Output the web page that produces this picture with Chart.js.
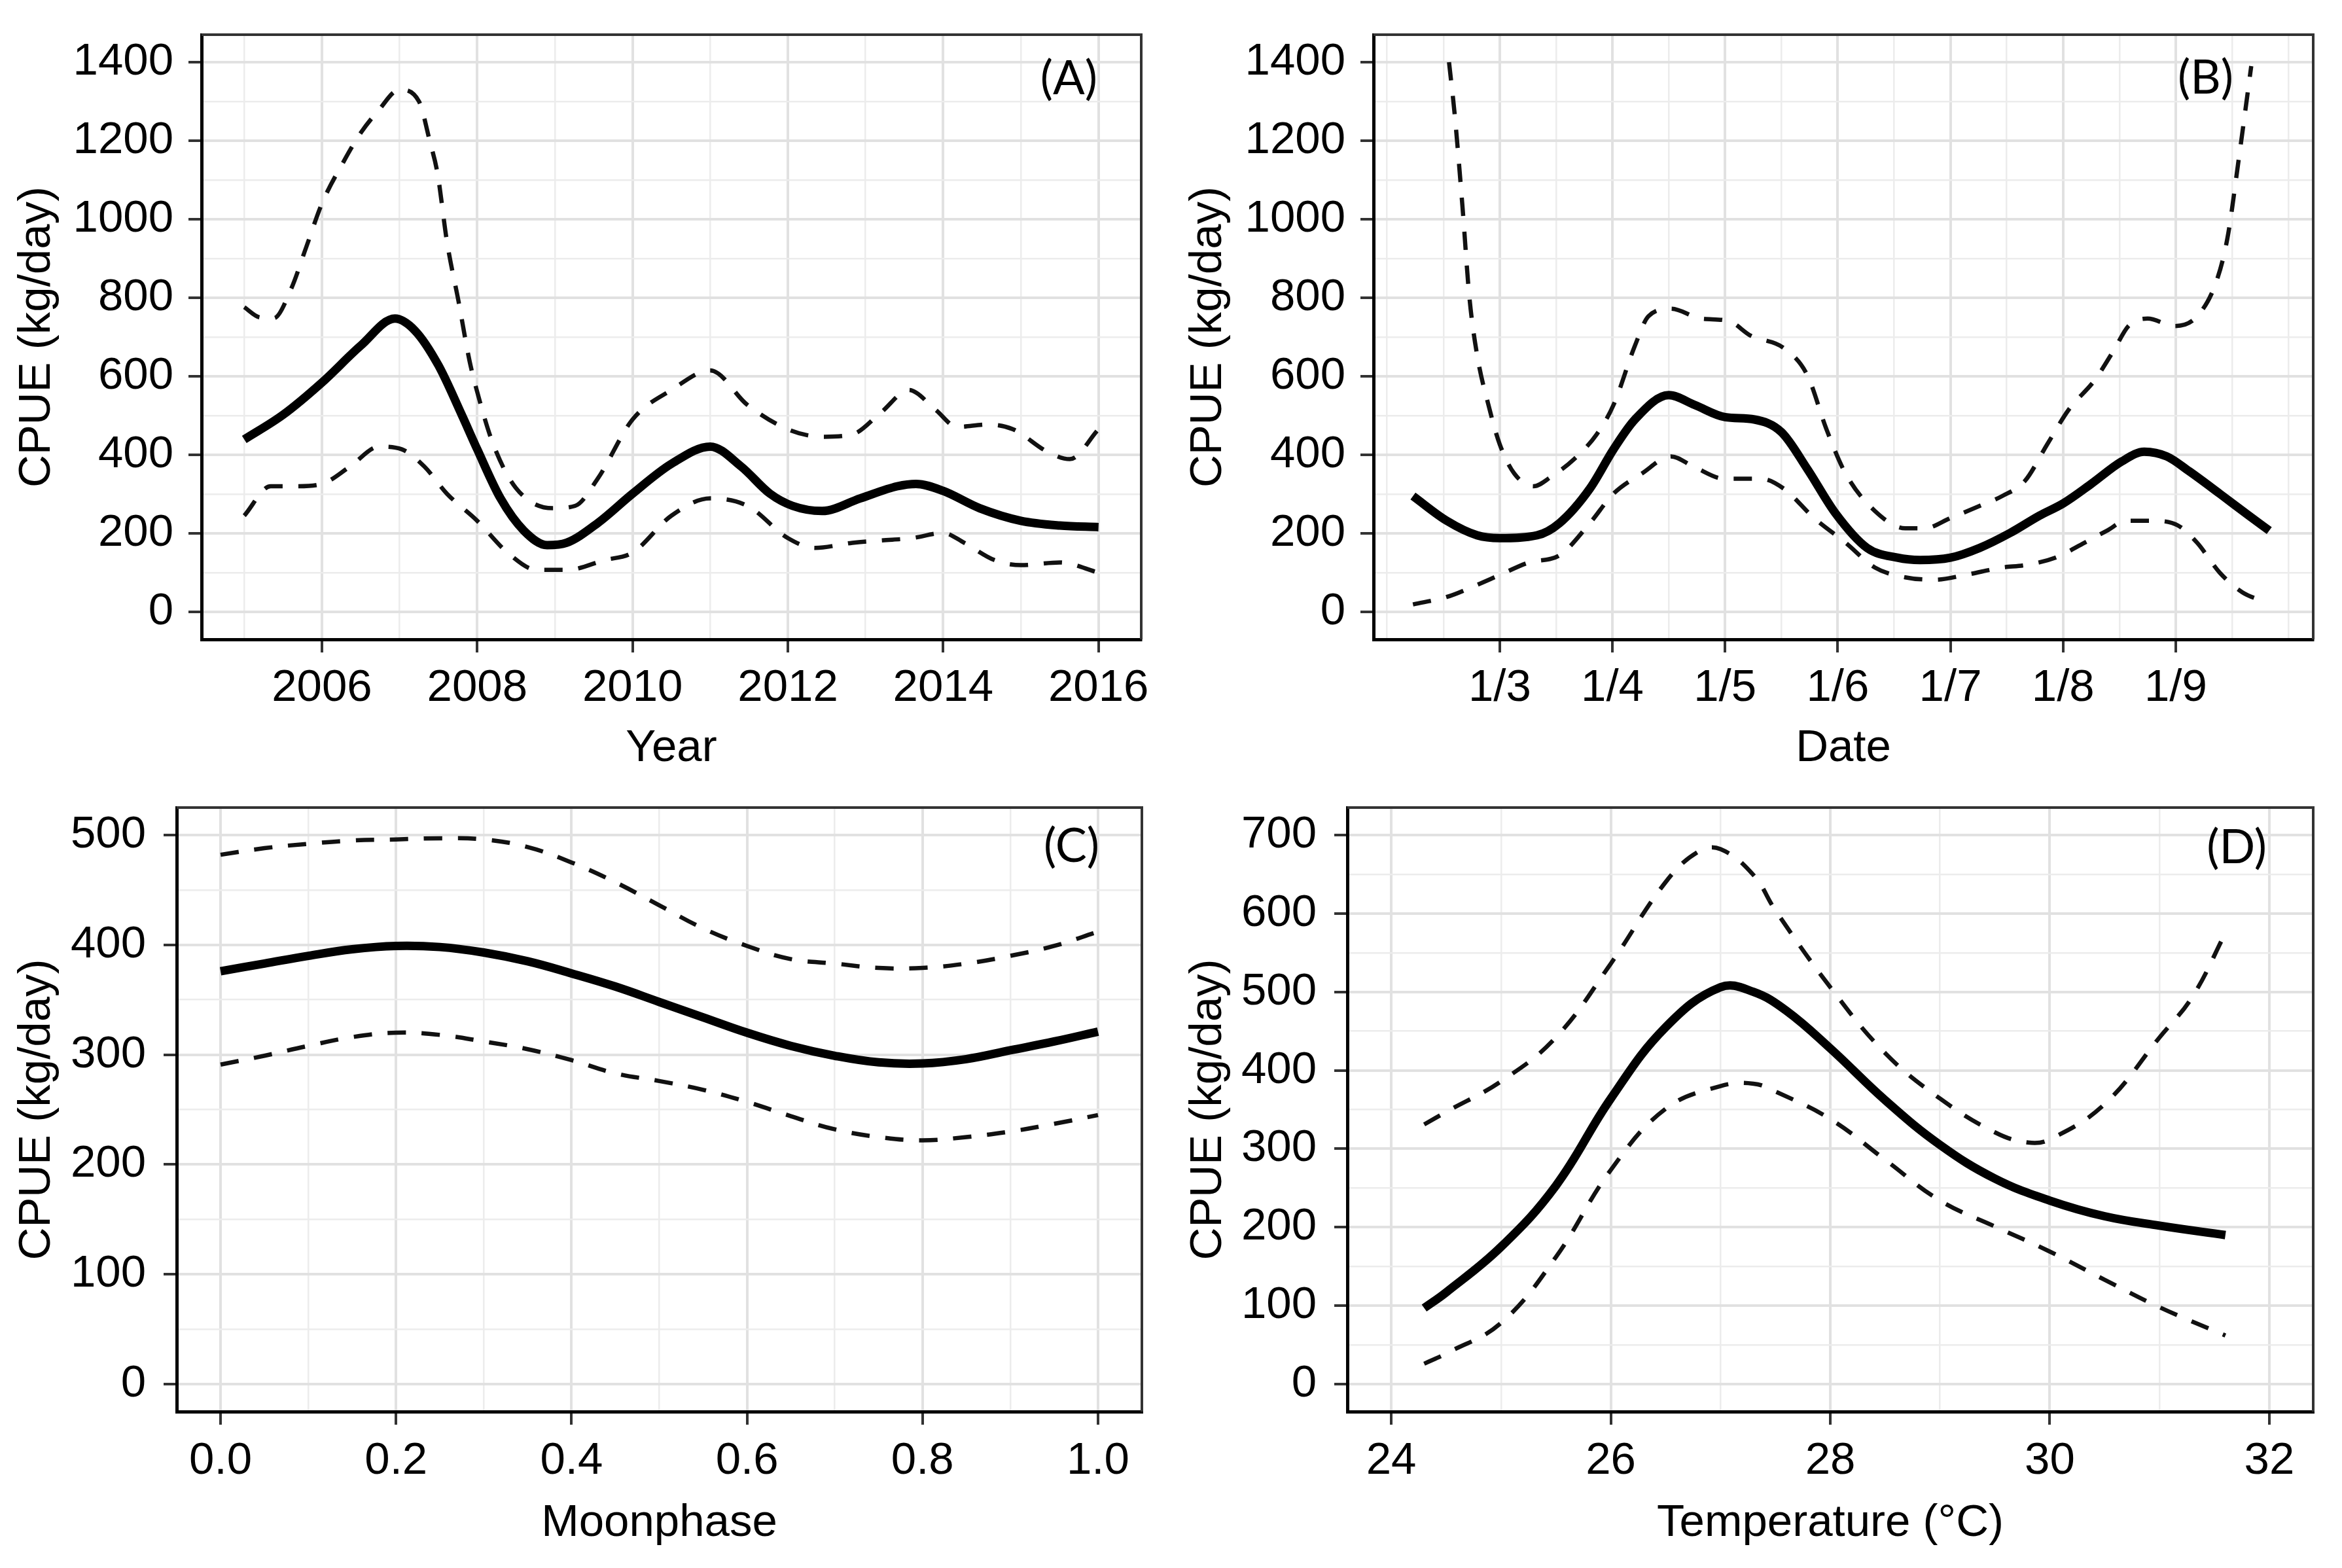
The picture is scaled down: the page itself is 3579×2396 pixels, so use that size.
<!DOCTYPE html>
<html><head><meta charset="utf-8">
<script src="https://cdn.jsdelivr.net/npm/chart.js@4.4.0/dist/chart.umd.min.js"></script>
<style>
html,body{margin:0;padding:0;background:#fff;}
body{width:3579px;height:2396px;position:relative;overflow:hidden;}
canvas{position:absolute;}
</style></head><body>
<canvas id="cA" style="left:0px;top:0px;width:1790px;height:1190px"></canvas>
<canvas id="cB" style="left:1790px;top:0px;width:1789px;height:1190px"></canvas>
<canvas id="cC" style="left:0px;top:1190px;width:1790px;height:1206px"></canvas>
<canvas id="cD" style="left:1790px;top:1190px;width:1789px;height:1206px"></canvas>
<script>
// ---------- Panel A : Year ----------
const A_fit_x = [2005, 2005.5, 2006, 2006.5, 2006.94, 2007.2, 2007.5, 2007.8, 2008, 2008.3, 2008.6, 2008.9, 2009.15, 2009.55, 2010, 2010.5, 2011, 2011.4, 2011.77, 2012.06, 2012.44, 2012.93, 2013.41, 2013.65, 2014, 2014.47, 2015, 2015.5, 2016];
const A_fit_y = [439, 502, 584, 678, 747, 716, 628, 502, 414, 289, 207, 170, 176, 226, 301, 377, 421, 370, 301, 270, 257, 289, 320, 326, 308, 264, 232, 220, 216];
const A_up_x = [2005, 2005.2, 2005.38, 2005.6, 2005.8, 2006, 2006.28, 2006.5, 2006.72, 2007, 2007.25, 2007.39, 2007.49, 2007.61, 2007.76, 2007.9, 2008, 2008.2, 2008.5, 2008.97, 2009.26, 2009.55, 2010, 2010.5, 2011, 2011.48, 2012, 2012.44, 2012.83, 2013.2, 2013.56, 2013.9, 2014.18, 2014.57, 2014.9, 2015.34, 2015.63, 2016];
const A_up_y = [776, 750, 748, 821, 930, 1040, 1147, 1220, 1275, 1330, 1300, 1198, 1115, 943, 790, 640, 560, 430, 315, 264, 270, 339, 490, 565, 615, 527, 465, 446, 452, 508, 565, 515, 471, 477, 465, 408, 389, 465];
const A_lo_x = [2005, 2005.34, 2005.68, 2006, 2006.36, 2006.74, 2007.03, 2007.32, 2007.61, 2008, 2008.39, 2008.77, 2009.16, 2009.64, 2010, 2010.5, 2011, 2011.48, 2012, 2012.35, 2012.83, 2013.2, 2013.6, 2014, 2014.27, 2014.66, 2015, 2015.5, 2016];
const A_lo_y = [245, 320, 320, 326, 370, 421, 414, 370, 301, 232, 151, 107, 107, 132, 151, 245, 289, 270, 188, 163, 176, 182, 188, 201, 176, 132, 119, 126, 100];
const A_xmajor = [2006, 2008, 2010, 2012, 2014, 2016];
const A_xlabels = ['2006', '2008', '2010', '2012', '2014', '2016'];
const A_xminor = [2005, 2007, 2009, 2011, 2013, 2015];

// ---------- Panel B : Date (month) ----------
const B_fit_x = [2.23, 2.53, 2.8, 3.0, 3.33, 3.53, 3.8, 4.01, 4.2, 4.5, 4.73, 5.0, 5.26, 5.5, 5.73, 5.98, 6.26, 6.53, 6.73, 7.0, 7.26, 7.53, 7.79, 8.0, 8.25, 8.52, 8.72, 8.92, 9.12, 9.39, 9.65, 9.83];
const B_fit_y = [295, 232, 195, 188, 195, 226, 314, 414, 490, 552, 527, 496, 490, 458, 364, 251, 163, 138, 132, 138, 163, 201, 245, 276, 326, 383, 408, 396, 358, 301, 245, 207];
const B_up_x = [2.55, 2.6, 2.67, 2.73, 2.8, 2.9, 3.0, 3.13, 3.3, 3.46, 3.66, 3.86, 4.01, 4.2, 4.32, 4.52, 4.79, 5.03, 5.23, 5.52, 5.73, 5.9, 6.07, 6.33, 6.6, 6.77, 7.0, 7.26, 7.46, 7.66, 7.86, 8.05, 8.28, 8.45, 8.58, 8.75, 8.99, 9.19, 9.36, 9.46, 9.56, 9.67];
const B_up_y = [1400, 1268, 1030, 804, 653, 527, 427, 352, 320, 345, 389, 452, 527, 678, 753, 772, 747, 741, 703, 672, 603, 465, 352, 257, 213, 213, 239, 270, 295, 333, 427, 515, 590, 666, 728, 747, 728, 753, 841, 954, 1155, 1390];
const B_lo_x = [2.23, 2.53, 2.8, 3.0, 3.26, 3.53, 3.8, 4.01, 4.26, 4.52, 4.72, 5.0, 5.32, 5.52, 5.79, 6.07, 6.33, 6.6, 6.86, 7.13, 7.46, 7.66, 7.93, 8.19, 8.39, 8.56, 8.79, 9.02, 9.19, 9.39, 9.59, 9.8];
const B_lo_y = [19, 38, 69, 94, 126, 144, 226, 301, 352, 396, 370, 339, 339, 314, 239, 176, 113, 88, 82, 94, 113, 119, 138, 176, 207, 232, 232, 220, 176, 100, 50, 25];
const B_xmajor = [3, 4, 5, 6, 7, 8, 9];
const B_xlabels = ['1/3', '1/4', '1/5', '1/6', '1/7', '1/8', '1/9'];
const B_xminor = [2, 2.5, 3.5, 4.5, 5.5, 6.5, 7.5, 8.5, 9.5, 10];

const AB_ymajor = [0, 200, 400, 600, 800, 1000, 1200, 1400];
const AB_ylabels = ['0', '200', '400', '600', '800', '1000', '1200', '1400'];
const AB_yminor = [100, 300, 500, 700, 900, 1100, 1300];

// ---------- Panel C : Moonphase ----------
const C_x = [0, 0.05, 0.1, 0.15, 0.2, 0.25, 0.3, 0.35, 0.4, 0.45, 0.5, 0.55, 0.6, 0.65, 0.7, 0.75, 0.8, 0.85, 0.9, 0.95, 1.0];
const C_fit_y = [376, 383, 390, 396, 399, 398, 393, 385, 374, 362, 348, 334, 320, 308, 299, 293, 292, 296, 304, 312, 321];
const C_up_y = [482, 488, 492, 495, 496, 497, 496, 489, 475, 457, 436, 415, 399, 387, 383, 379, 379, 383, 390, 399, 412];
const C_lo_y = [291, 299, 308, 316, 320, 318, 312, 305, 295, 283, 276, 268, 257, 244, 232, 225, 222, 225, 230, 237, 245];
const C_xmajor = [0, 0.2, 0.4, 0.6, 0.8, 1.0];
const C_xlabels = ['0.0', '0.2', '0.4', '0.6', '0.8', '1.0'];
const C_xminor = [0.1, 0.3, 0.5, 0.7, 0.9];
const C_ymajor = [0, 100, 200, 300, 400, 500];
const C_ylabels = ['0', '100', '200', '300', '400', '500'];
const C_yminor = [50, 150, 250, 350, 450];

// ---------- Panel D : Temperature ----------
const D_fit_x = [24.3, 24.5, 25, 25.5, 26, 26.5, 27, 27.3, 27.6, 28, 28.5, 29, 29.5, 30, 30.5, 31, 31.6];
const D_fit_y = [97, 117, 175, 253, 364, 455, 506, 500, 476, 428, 362, 305, 262, 234, 214, 202, 190];
const D_up_x = [24.3, 24.5, 25, 25.5, 26, 26.5, 26.8, 27, 27.3, 27.5, 28, 28.5, 29, 29.5, 29.8, 30, 30.5, 31, 31.3, 31.6];
const D_up_y = [331, 347, 386, 442, 536, 640, 679, 682, 649, 604, 506, 422, 364, 321, 308, 312, 357, 442, 494, 575];
const D_lo_x = [24.3, 24.5, 25, 25.5, 26, 26.5, 27, 27.3, 27.5, 28, 28.5, 29, 29.5, 30, 30.5, 31, 31.6];
const D_lo_y = [26, 39, 78, 162, 273, 351, 380, 383, 373, 338, 286, 234, 201, 169, 133, 98, 62];
const D_xmajor = [24, 26, 28, 30, 32];
const D_xlabels = ['24', '26', '28', '30', '32'];
const D_xminor = [25, 27, 29, 31];
const D_ymajor = [0, 100, 200, 300, 400, 500, 600, 700];
const D_ylabels = ['0', '100', '200', '300', '400', '500', '600', '700'];
const D_yminor = [50, 150, 250, 350, 450, 550, 650];

// ---------- rendering ----------
const FONT = '"Liberation Sans", Arial, sans-serif';
const FS = 69;

function pts(xs, ys) { return xs.map((x, i) => ({ x: x, y: ys[i] })); }

const frame = {
  id: 'frame',
  beforeDatasetsDraw(chart) {
    const { ctx, chartArea: a } = chart;
    ctx.save();
    ctx.strokeStyle = '#333';
    ctx.lineWidth = 4;
    ctx.beginPath();
    ctx.moveTo(a.left, a.top);
    ctx.lineTo(a.right, a.top);
    ctx.lineTo(a.right, a.bottom);
    ctx.stroke();
    ctx.restore();
  }
};
const panelLabel = {
  id: 'panelLabel',
  afterDatasetsDraw(chart, args, o) {
    const { ctx, chartArea: a } = chart;
    ctx.save();
    ctx.font = '72px Lato, "Open Sans", sans-serif';
    ctx.fillStyle = '#000';
    ctx.textAlign = 'right';
    ctx.textBaseline = 'middle';
    ctx.fillText(o.text, a.right - o.dx, a.top + o.dy);
    ctx.restore();
  }
};

function axis(pos, min, max, major, labels, minor, title, L) {
  const isMaj = v => major.some(m => Math.abs(m - v) < 1e-9);
  const f = { family: FONT, size: FS };
  const horiz = pos === 'bottom';
  return {
    type: 'linear', position: pos, min: min, max: max,
    afterBuildTicks: s => { s.ticks = major.concat(minor).sort((a, b) => a - b).map(v => ({ value: v })); },
    afterFit: s => {
      if (horiz) { s.height = L.xh; s.paddingLeft = 0; s.paddingRight = 0; }
      else { s.width = L.yw; s.paddingTop = 0; s.paddingBottom = 0; }
    },
    ticks: {
      autoSkip: false, maxRotation: 0, minRotation: 0,
      padding: horiz ? L.xpad : L.ypad, color: '#000', font: f,
      callback: v => { const i = major.findIndex(m => Math.abs(m - v) < 1e-9); return i < 0 ? '' : labels[i]; }
    },
    grid: {
      drawOnChartArea: true, drawTicks: true, tickLength: 20, tickWidth: 4,
      color: c => (c.tick && isMaj(c.tick.value)) ? '#e1e1e1' : '#ececec',
      lineWidth: c => (c.tick && isMaj(c.tick.value)) ? 4 : 2.5,
      tickColor: c => (c.tick && isMaj(c.tick.value)) ? '#333' : 'rgba(0,0,0,0)'
    },
    border: { display: true, color: '#000', width: 5 },
    title: {
      display: true, text: title, color: '#000', font: f,
      padding: horiz ? { top: 0, bottom: L.xtp } : { top: L.ytp, bottom: 0 }
    }
  };
}

function makePanel(id, P, L) {
  const cv = document.getElementById(id);
  cv.width = L.w; cv.height = L.h;
  const interp = P.smooth ? { cubicInterpolationMode: 'default', tension: 0.4 } : { cubicInterpolationMode: 'monotone' };
  const solid = Object.assign({ data: pts(P.fx, P.fy), showLine: true, borderColor: '#000', borderWidth: 13, pointRadius: 0, fill: false, borderCapStyle: 'butt' }, interp);
  const dashU = Object.assign({ data: pts(P.ux, P.uy), showLine: true, borderColor: '#111', borderWidth: 6.5, borderDash: [28, 24], pointRadius: 0, fill: false }, interp);
  const dashL = Object.assign({ data: pts(P.lx, P.ly), showLine: true, borderColor: '#111', borderWidth: 6.5, borderDash: [28, 24], pointRadius: 0, fill: false }, interp);
  new Chart(cv, {
    type: 'scatter',
    data: { datasets: [solid, dashU, dashL] },
    plugins: [frame, panelLabel],
    options: {
      responsive: false, animation: false, devicePixelRatio: 1, events: [],
      layout: { padding: { left: 0, top: L.pt, right: L.pr, bottom: 0 } },
      plugins: { legend: { display: false }, tooltip: { enabled: false }, panelLabel: { text: P.label, dx: L.ldx, dy: L.ldy } },
      scales: {
        x: axis('bottom', P.xmin, P.xmax, P.xmaj, P.xlab, P.xmin_t, P.xtitle, L),
        y: axis('left', P.ymin, P.ymax, P.ymaj, P.ylab, P.ymin_t, 'CPUE (kg/day)', L)
      }
    }
  });
}

makePanel('cA', {
  fx: A_fit_x, fy: A_fit_y, ux: A_up_x, uy: A_up_y, lx: A_lo_x, ly: A_lo_y,
  xmin: 2004.45, xmax: 2016.55, xmaj: A_xmajor, xlab: A_xlabels, xmin_t: A_xminor, xtitle: 'Year',
  ymin: -70, ymax: 1470, ymaj: AB_ymajor, ylab: AB_ylabels, ymin_t: AB_yminor, label: '(A)', smooth: false
}, { w: 1790, h: 1190, pt: 53, pr: 46, yw: 308, xh: 213, xpad: 14, ypad: 23, xtp: 5, ytp: 16, ldx: 67, ldy: 68 });

makePanel('cB', {
  fx: B_fit_x, fy: B_fit_y, ux: B_up_x, uy: B_up_y, lx: B_lo_x, ly: B_lo_y,
  xmin: 1.88, xmax: 10.22, xmaj: B_xmajor, xlab: B_xlabels, xmin_t: B_xminor, xtitle: 'Date',
  ymin: -70, ymax: 1470, ymaj: AB_ymajor, ylab: AB_ylabels, ymin_t: AB_yminor, label: '(B)', smooth: false
}, { w: 1789, h: 1190, pt: 53, pr: 44, yw: 309, xh: 213, xpad: 14, ypad: 23, xtp: 5, ytp: 16, ldx: 122, ldy: 67 });

makePanel('cC', {
  fx: C_x, fy: C_fit_y, ux: C_x, uy: C_up_y, lx: C_x, ly: C_lo_y,
  xmin: -0.05, xmax: 1.05, xmaj: C_xmajor, xlab: C_xlabels, xmin_t: C_xminor, xtitle: 'Moonphase',
  ymin: -25, ymax: 525, ymaj: C_ymajor, ylab: C_ylabels, ymin_t: C_yminor, label: '(C)', smooth: true
}, { w: 1790, h: 1206, pt: 44, pr: 45, yw: 270, xh: 239, xpad: 15, ypad: 27, xtp: 27, ytp: 16, ldx: 65, ldy: 60 });

makePanel('cD', {
  fx: D_fit_x, fy: D_fit_y, ux: D_up_x, uy: D_up_y, lx: D_lo_x, ly: D_lo_y,
  xmin: 23.6, xmax: 32.4, xmaj: D_xmajor, xlab: D_xlabels, xmin_t: D_xminor, xtitle: 'Temperature (°C)',
  ymin: -35, ymax: 735, ymaj: D_ymajor, ylab: D_ylabels, ymin_t: D_yminor, label: '(D)', smooth: true
}, { w: 1789, h: 1206, pt: 44, pr: 44, yw: 269, xh: 239, xpad: 15, ypad: 27, xtp: 27, ytp: 16, ldx: 71, ldy: 62 });
</script>
</body></html>
